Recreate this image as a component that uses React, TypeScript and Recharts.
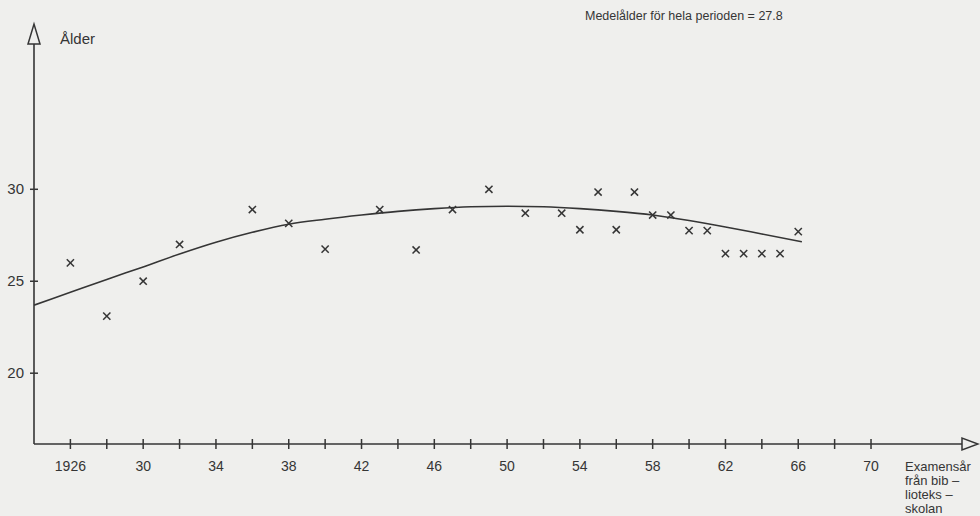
import React from "react";
import {
  ComposedChart,
  Scatter,
  Line,
  XAxis,
  YAxis,
  ReferenceDot,
} from "recharts";

const years = [1926, 1928, 1930, 1932, 1936, 1938, 1940, 1943, 1945, 1947, 1949, 1951, 1953, 1954, 1955, 1956, 1957, 1958, 1959, 1960, 1961, 1962, 1963, 1964, 1965, 1966];
const ages = [26.0, 23.1, 25.0, 27.0, 28.9, 28.15, 26.75, 28.9, 26.7, 28.9, 30.0, 28.7, 28.7, 27.8, 29.85, 27.8, 29.85, 28.6, 28.6, 27.75, 27.75, 26.5, 26.5, 26.5, 26.5, 27.7];

// Fitted trend curve
const trendYears = [1924, 1926, 1928, 1930, 1932, 1934, 1936, 1938, 1940, 1942, 1944, 1946, 1948, 1950, 1952, 1954, 1956, 1958, 1960, 1962, 1964, 1966.2];
const trendValues = [23.7, 24.4, 25.1, 25.78, 26.48, 27.12, 27.66, 28.1, 28.37, 28.6, 28.8, 28.95, 29.05, 29.08, 29.05, 28.95, 28.8, 28.6, 28.3, 27.95, 27.57, 27.15];

const xTicks = [1926, 1928, 1930, 1932, 1934, 1936, 1938, 1940, 1942, 1944, 1946, 1948, 1950, 1952, 1954, 1956, 1958, 1960, 1962, 1964, 1966, 1968, 1970];
const xTickLabels: Record<number, string> = {
  1926: "1926", 1930: "30", 1934: "34", 1938: "38", 1942: "42", 1946: "46",
  1950: "50", 1954: "54", 1958: "58", 1962: "62", 1966: "66", 1970: "70",
};
const yTicks = [20, 25, 30];

const X_MIN = 1924;
const X_MAX = 1975;
const Y_MIN = 16.15;
const Y_MAX = 37.9;

const INK = "#353535";
const BG = "#efefed";
const FONT = "'Liberation Sans', 'DejaVu Sans', sans-serif";

const points = years.map((y, i) => ({ x: y, y: ages[i] }));
const trend = trendYears.map((y, i) => ({ x: y, y: trendValues[i] }));

const XTick = (props: any) => {
  const { x, y, payload } = props;
  const label = xTickLabels[payload.value];
  return (
    <g>
      <line x1={x} x2={x} y1={y - 5} y2={y + 5} stroke={INK} strokeWidth={1.5} />
      {label && (
        <text x={x} y={y + 27} textAnchor="middle" fontSize={14} fill={INK} fontFamily={FONT}>
          {label}
        </text>
      )}
    </g>
  );
};

const YTick = (props: any) => {
  const { x, y, payload } = props;
  return (
    <g>
      <line x1={x - 4} x2={x + 4} y1={y} y2={y} stroke={INK} strokeWidth={1.5} />
      <text x={x - 10} y={y + 5} textAnchor="end" fontSize={15} fill={INK} fontFamily={FONT}>
        {payload.value}
      </text>
    </g>
  );
};

const Cross = (props: any) => {
  const { cx, cy } = props;
  const s = 3.6;
  return (
    <g stroke={INK} strokeWidth={1.5}>
      <line x1={cx - s} y1={cy - s} x2={cx + s} y2={cy + s} />
      <line x1={cx - s} y1={cy + s} x2={cx + s} y2={cy - s} />
    </g>
  );
};

const UpArrow = (props: any) => {
  const { cx, cy } = props;
  return (
    <polygon
      points={`${cx - 6},${cy} ${cx + 6},${cy} ${cx},${cy - 20}`}
      fill={BG}
      stroke={INK}
      strokeWidth={1.5}
    />
  );
};

const RightArrow = (props: any) => {
  const { cx, cy } = props;
  return (
    <polygon
      points={`${cx},${cy - 6} ${cx},${cy + 6} ${cx + 16},${cy}`}
      fill={BG}
      stroke={INK}
      strokeWidth={1.5}
    />
  );
};

export default function App() {
  return (
    <div style={{ position: "absolute", left: 0, top: 0, width: 980, height: 516, background: BG }}>
      <ComposedChart
        width={980}
        height={516}
        margin={{ top: 44, right: 18, bottom: 71, left: 33 }}
      >
        <XAxis
          type="number"
          dataKey="x"
          domain={[X_MIN, X_MAX]}
          ticks={xTicks}
          interval={0}
          allowDataOverflow
          height={1}
          tickSize={0}
          tickMargin={0}
          tick={<XTick />}
          axisLine={{ stroke: INK, strokeWidth: 1.6 }}
          tickLine={false}
        />
        <YAxis
          type="number"
          dataKey="y"
          domain={[Y_MIN, Y_MAX]}
          ticks={yTicks}
          interval={0}
          allowDataOverflow
          width={1}
          tickSize={0}
          tickMargin={0}
          tick={<YTick />}
          axisLine={{ stroke: INK, strokeWidth: 1.6 }}
          tickLine={false}
        />
        <Line
          data={trend}
          dataKey="y"
          type="monotone"
          stroke={INK}
          strokeWidth={1.6}
          dot={false}
          activeDot={false}
          isAnimationActive={false}
        />
        <Scatter data={points} dataKey="y" shape={<Cross />} isAnimationActive={false} />
        <ReferenceDot x={X_MIN} y={Y_MAX} ifOverflow="visible" shape={<UpArrow />} />
        <ReferenceDot x={X_MAX} y={Y_MIN} ifOverflow="visible" shape={<RightArrow />} />
        <text x={60} y={44} fontSize={15} fill={INK} fontFamily={FONT}>
          Ålder
        </text>
        <text x={585} y={20} fontSize={12.5} fill={INK} fontFamily={FONT}>
          Medelålder för hela perioden = 27.8
        </text>
        <text fontSize={13} fill={INK} fontFamily={FONT}>
          <tspan x={905} y={471}>Examensår</tspan>
          <tspan x={905} y={485}>från bib –</tspan>
          <tspan x={905} y={499}>lioteks –</tspan>
          <tspan x={905} y={513}>skolan</tspan>
        </text>
      </ComposedChart>
    </div>
  );
}
